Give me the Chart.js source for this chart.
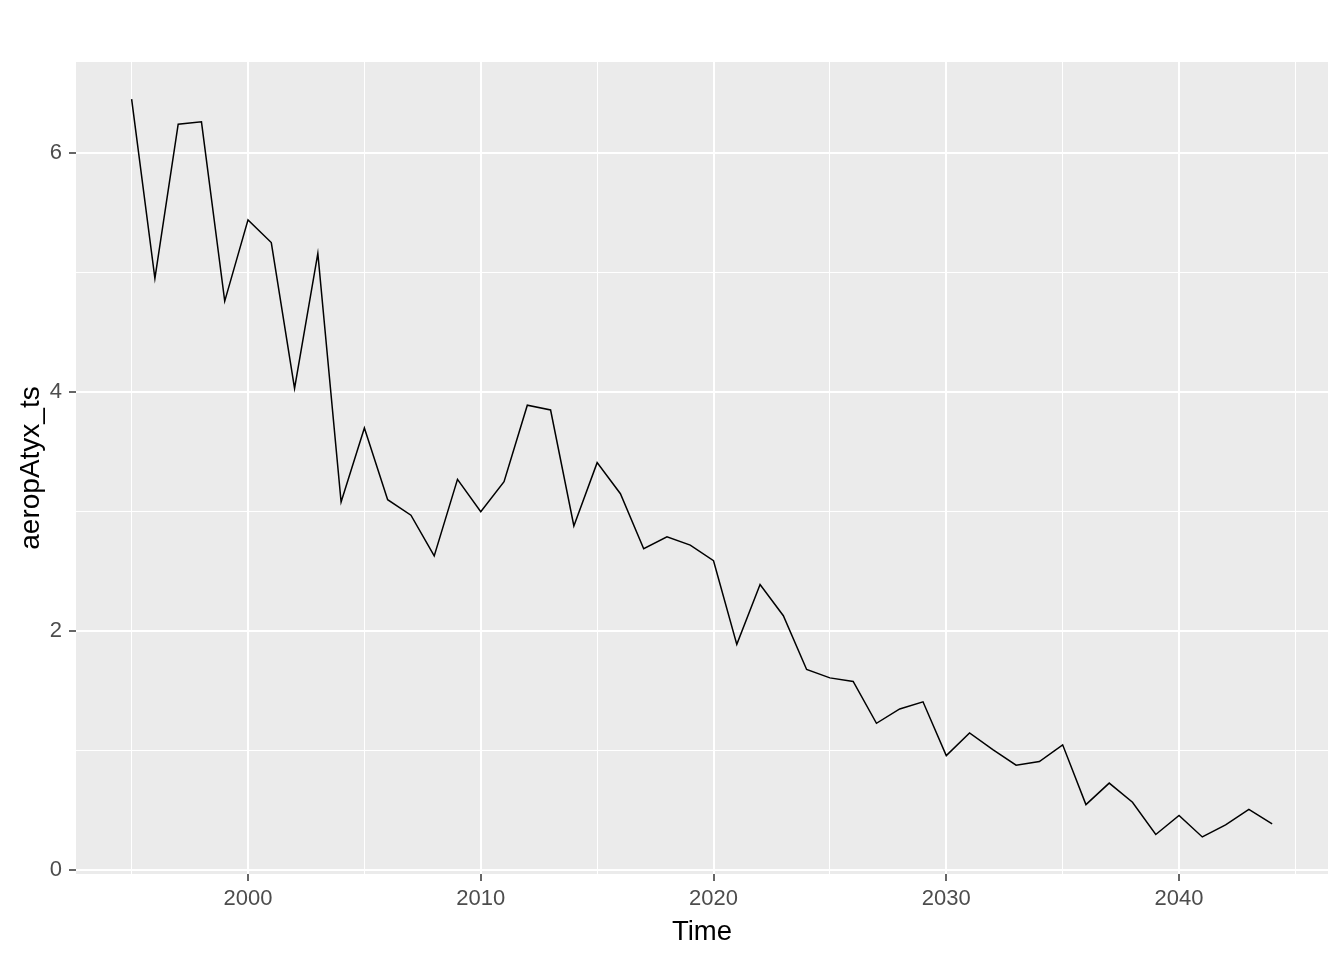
<!DOCTYPE html>
<html>
<head>
<meta charset="utf-8">
<script src="https://cdn.jsdelivr.net/npm/chart.js@4"></script>
<style>
    body { margin: 0; background: #fff; }
    #wrap { width: 1344px; height: 960px; }
</style>
</head>
<body>
<div id="wrap"><canvas id="myChart" width="1344" height="960"></canvas></div>
<script>
const years = [1995, 1996, 1997, 1998, 1999, 2000, 2001, 2002, 2003, 2004,
    2005, 2006, 2007, 2008, 2009, 2010, 2011, 2012, 2013, 2014,
    2015, 2016, 2017, 2018, 2019, 2020, 2021, 2022, 2023, 2024,
    2025, 2026, 2027, 2028, 2029, 2030, 2031, 2032, 2033, 2034,
    2035, 2036, 2037, 2038, 2039, 2040, 2041, 2042, 2043, 2044]
const values = [6.45, 4.95, 6.24, 6.26, 4.76, 5.44, 5.25, 4.03, 5.16, 3.08,
    3.70, 3.10, 2.97, 2.63, 3.27, 3.00, 3.25, 3.89, 3.85, 2.88,
    3.41, 3.15, 2.69, 2.79, 2.72, 2.59, 1.89, 2.39, 2.13, 1.68,
    1.61, 1.58, 1.23, 1.35, 1.41, 0.96, 1.15, 1.01, 0.88, 0.91,
    1.05, 0.55, 0.73, 0.57, 0.30, 0.46, 0.28, 0.38, 0.51, 0.39]
const xTickLabels = [2000, 2010, 2020, 2030, 2040]
const yTickLabels = [0, 2, 4, 6]

// grey panel behind the grid
const panelBg = {
    id: 'panelBg',
    beforeDraw(chart) {
        const {ctx, chartArea: a} = chart
        ctx.save()
        ctx.fillStyle = '#EBEBEB'
        ctx.fillRect(a.left, a.top, a.right - a.left, a.bottom - a.top)
        ctx.restore()
    }
}

const isMajorX = v => xTickLabels.includes(v)
const isMajorY = v => yTickLabels.includes(v)

const config = {
    type: 'line',
    data: {
        datasets: [{
            data: years.map((y, i) => ({x: y, y: values[i]})),
            borderColor: '#000',
            borderWidth: 1.5,
            pointRadius: 0,
            tension: 0,
            fill: false
        }]
    },
    options: {
        responsive: false,
        animation: false,
        layout: {padding: {left: 0, right: 16, top: 62, bottom: 0}},
        plugins: {legend: {display: false}, tooltip: {enabled: false}},
        scales: {
            x: {
                type: 'linear',
                min: 1992.61,
                max: 2046.4,
                afterFit: s => { s.height = 86 },
                border: {display: false},
                grid: {
                    color: '#FFFFFF',
                    lineWidth: c => isMajorX(c.tick.value) ? 2 : 1,
                    tickColor: c => isMajorX(c.tick.value) ? '#333333' : 'rgba(0,0,0,0)',
                    tickLength: 7,
                    tickWidth: 1.5
                },
                ticks: {
                    stepSize: 5,
                    includeBounds: false,
                    autoSkip: false,
                    maxRotation: 0,
                    padding: 5,
                    color: '#4D4D4D',
                    font: {family: 'Liberation Sans', size: 22},
                    callback: v => isMajorX(v) ? String(v) : ''
                },
                title: {
                    display: true,
                    text: 'Time',
                    color: '#000',
                    font: {family: 'Liberation Sans', size: 27.5},
                    padding: {top: 0, bottom: 11}
                }
            },
            y: {
                type: 'linear',
                min: -0.03,
                max: 6.76,
                afterFit: s => { s.width = 76 },
                border: {display: false},
                grid: {
                    color: '#FFFFFF',
                    lineWidth: c => isMajorY(c.tick.value) ? 2 : 1,
                    tickColor: c => isMajorY(c.tick.value) ? '#333333' : 'rgba(0,0,0,0)',
                    tickLength: 7,
                    tickWidth: 1.5
                },
                ticks: {
                    stepSize: 1,
                    includeBounds: false,
                    autoSkip: false,
                    padding: 7,
                    color: '#4D4D4D',
                    font: {family: 'Liberation Sans', size: 22},
                    callback: v => isMajorY(v) ? String(v) : ''
                },
                title: {
                    display: true,
                    text: 'aeropAtyx_ts',
                    color: '#000',
                    font: {family: 'Liberation Sans', size: 28},
                    padding: {top: 14, bottom: 0}
                }
            }
        }
    },
    plugins: [panelBg]
}

const myChart = new Chart(document.getElementById('myChart'), config)
</script>
</body>
</html>
